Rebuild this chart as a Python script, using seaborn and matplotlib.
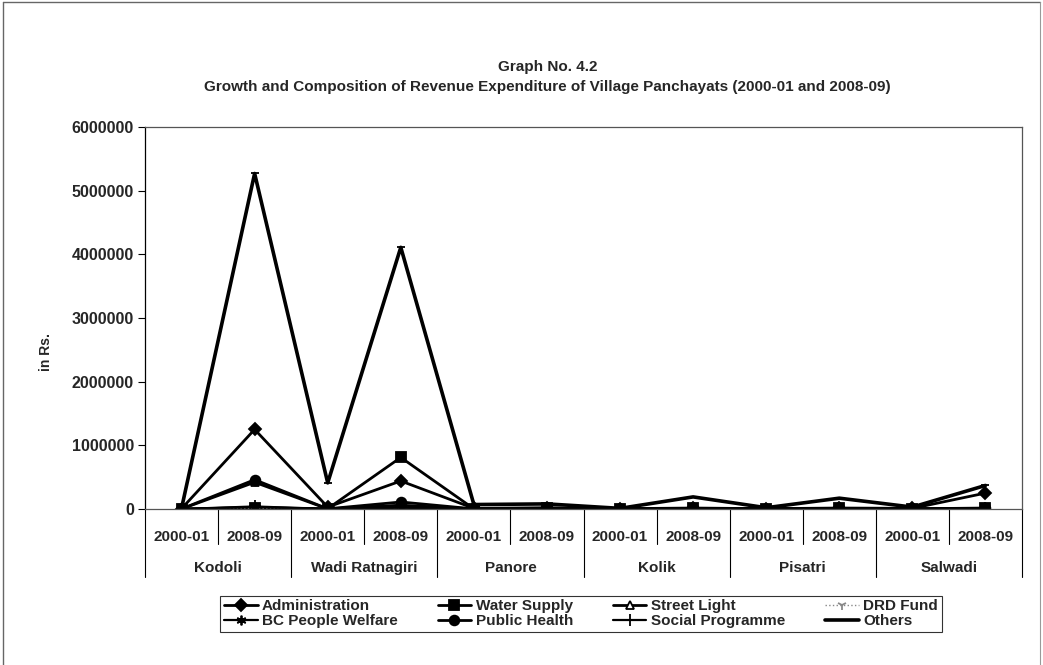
import numpy as np
import pandas as pd
import seaborn as sns
import matplotlib.pyplot as plt
from matplotlib.lines import Line2D

# Revenue expenditure of village panchayats (Rs.)
villages = ['Kodoli', 'Wadi Ratnagiri', 'Panore', 'Kolik', 'Pisatri', 'Salwadi']
years = ['2000-01', '2008-09']

administration = [5000, 1250000, 30000, 440000, 10000, 20000, 5000, 15000, 5000, 15000, 10000, 250000]
water_supply = [2000, 20000, 5000, 810000, 3000, 10000, 2000, 10000, 2000, 10000, 3000, 15000]
street_light = [1000, 420000, 2000, 60000, 1000, 5000, 1000, 5000, 1000, 5000, 1000, 10000]
drd_fund = [0, 10000, 0, 5000, 0, 2000, 0, 2000, 0, 2000, 0, 3000]
bc_welfare = [0, 30000, 0, 20000, 0, 5000, 0, 3000, 0, 3000, 0, 5000]
public_health = [2000, 460000, 3000, 110000, 2000, 8000, 1000, 8000, 1000, 8000, 2000, 10000]
social_programme = [0, 40000, 0, 30000, 0, 5000, 0, 5000, 0, 5000, 0, 10000]
others = [10000, 5270000, 410000, 4110000, 70000, 80000, 10000, 190000, 20000, 170000, 30000, 370000]

series = {
    'Administration': administration,
    'Water Supply': water_supply,
    'Street Light': street_light,
    'DRD Fund': drd_fund,
    'BC People Welfare': bc_welfare,
    'Public Health': public_health,
    'Social Programme': social_programme,
    'Others': others,
}

# look of each line
styles = {
    'Administration': dict(marker='D', mfc='black', ls='-', lw=2.0, c='black', ms=6),
    'Water Supply': dict(marker='s', mfc='black', ls='-', lw=2.0, c='black', ms=7),
    'Street Light': dict(marker='^', mfc='white', ls='-', lw=2.0, c='black', ms=6),
    'DRD Fund': dict(marker='1', mfc='none', ls=':', lw=1.0, c='#888888', ms=7),
    'BC People Welfare': dict(marker=(6, 2, 0), mfc='black', ls='-', lw=1.6, c='black', ms=7),
    'Public Health': dict(marker='o', mfc='black', ls='-', lw=2.0, c='black', ms=7),
    'Social Programme': dict(marker='+', mfc='black', ls='-', lw=1.6, c='black', ms=9),
    'Others': dict(marker='_', mfc='black', ls='-', lw=2.6, c='black', ms=6),
}

labels = [y for v in villages for y in years]
pos = np.arange(len(labels))
FS = 11

sns.set_style('white')
plt.rcParams['font.family'] = ['Liberation Sans', 'DejaVu Sans']

fig = plt.figure(figsize=(10.43, 6.65), dpi=100)
ax = fig.add_axes([145/1043, 1 - 509/665, 877/1043, 382/665])

for name, vals in series.items():
    st = styles[name]
    sns.lineplot(x=pos, y=vals, ax=ax, color=st['c'], linestyle=st['ls'], linewidth=st['lw'],
                 marker=st['marker'], markersize=st['ms'], markerfacecolor=st['mfc'],
                 markeredgecolor=st['c'], markeredgewidth=1.3, label=name)

ax.set_xlim(-0.5, len(labels) - 0.5)
ax.set_ylim(0, 6000000)
ax.set_yticks(np.arange(0, 6000001, 1000000))
ax.set_yticklabels([str(v) for v in range(0, 6000001, 1000000)], fontsize=FS + 0.5, fontweight='bold')
ax.tick_params(axis='y', direction='out', length=5, width=0.8, color='black', pad=3, left=True)
ax.set_xticks(pos)
ax.set_xticklabels(labels, fontsize=FS, fontweight='bold')
ax.tick_params(axis='x', length=0, pad=15)
ax.set_ylabel('in Rs.', fontsize=FS - 1, fontweight='bold')
ax.yaxis.set_label_coords(-0.105, 0.41)
for s in ax.spines.values():
    s.set_color('#555555')
    s.set_linewidth(0.9)
ax.spines['left'].set_color('black')

# category separators under the axis
trans = ax.get_xaxis_transform()
for i in range(len(labels) + 1):
    b = i - 0.5
    depth = -0.178 if i % 2 == 0 else -0.092
    ax.plot([b, b], [0, depth], transform=trans, color='black', lw=0.8, clip_on=False)
for j, v in enumerate(villages):
    ax.text(2 * j + 0.5, -0.154, v, transform=trans, ha='center', va='center',
            fontsize=FS, fontweight='bold')

fig.text(0.525, 0.899, 'Graph No. 4.2', ha='center', va='center', fontsize=FS, fontweight='bold')
fig.text(0.525, 0.869, 'Growth and Composition of Revenue Expenditure of Village Panchayats (2000-01 and 2008-09)',
         ha='center', va='center', fontsize=FS, fontweight='bold')

handles, names = ax.get_legend_handles_labels()
ax.get_legend().remove()
order = [0, 4, 1, 5, 2, 6, 3, 7]
leg = fig.legend([handles[i] for i in order], [names[i] for i in order], ncol=4,
                 loc='center', bbox_to_anchor=(0.557, 0.077), fontsize=FS, frameon=True,
                 fancybox=False, edgecolor='black', handlelength=2.2, handletextpad=0.3,
                 columnspacing=2.6, labelspacing=0.05, borderpad=0.25)
leg.get_frame().set_linewidth(0.8)
for t in leg.get_texts():
    t.set_fontweight('bold')

# outer border of the scanned chart
fig.add_artist(Line2D([0.003, 0.003], [0.0, 0.997], transform=fig.transFigure, color='#666666', lw=1.0))
fig.add_artist(Line2D([0.003, 0.997], [0.997, 0.997], transform=fig.transFigure, color='#666666', lw=1.0))
fig.add_artist(Line2D([0.997, 0.997], [0.0, 0.997], transform=fig.transFigure, color='#999999', lw=0.8))

fig.savefig('out.png', dpi=100)
